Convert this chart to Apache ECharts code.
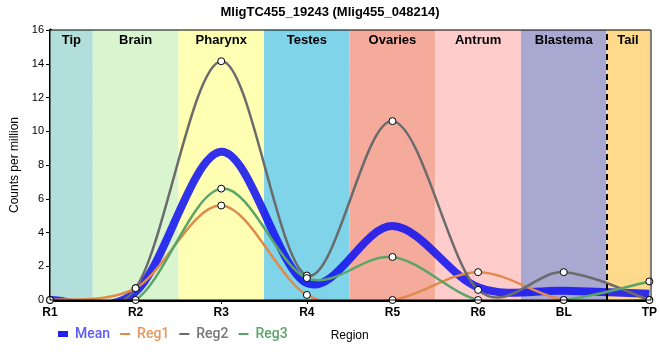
<!DOCTYPE html>
<html><head><meta charset="utf-8">
<script src="https://cdn.jsdelivr.net/npm/echarts@6/dist/echarts.min.js"></script>
<style>html,body{margin:0;padding:0;background:#fff}#c{width:660px;height:360px}</style>
</head><body><div id="c"></div>
<script>
const categories = ['R1','R2','R3','R4','R5','R6','BL','TP'];
const meanVals = [0, 0.47, 8.78, 1.0, 4.38, 0.75, 0.55, 0.37];
const reg1Vals = [0, 0.7, 5.6, 0.3, 0, 1.65, 0, 0];
const reg2Vals = [0, 0.7, 14.15, 1.45, 10.6, 0.6, 1.65, 0];
const reg3Vals = [0, 0, 6.6, 1.3, 2.55, 0, 0, 1.1];
const regions = ['Tip','Brain','Pharynx','Testes','Ovaries','Antrum','Blastema','Tail'];
const regionStart = [0, 0.5, 1.5, 2.5, 3.5, 4.5, 5.5, 6.5];
const regionEnd = [0.5, 1.5, 2.5, 3.5, 4.5, 5.5, 6.5, 7];
const regionColors = ['#b2dfdb','#d8f5d0','#ffffb3','#80d4ea','#f4ab9c','#ffcccc','#a8a8d0','#ffd98c'];

const toXY = arr => arr.map((v,i)=>[i,v]);
const markerStyle = {color:'#fff', borderColor:'#000', borderWidth:1};
const ff = 'Liberation Sans, Arial, sans-serif';
const thinIcon = 'path://M0,0L0,0M0,3L10,3L10,5L0,5ZM10,8L10,8';
const thickIcon = 'path://M0,0L0,0M0,1L10,1L10,7L0,7ZM10,8L10,8';

// uniform Catmull-Rom spline through the pixel points given by the axes
function catmullPath(p) {
  const n = p.length;
  let d = 'M' + p[0][0] + ',' + p[0][1];
  for (let i = 0; i < n - 1; i++) {
    const p0 = p[Math.max(i-1, 0)], p1 = p[i], p2 = p[i+1], p3 = p[Math.min(i+2, n-1)];
    const c1x = p1[0] + (p2[0]-p0[0])/6, c1y = p1[1] + (p2[1]-p0[1])/6;
    const c2x = p2[0] - (p3[0]-p1[0])/6, c2y = p2[1] - (p3[1]-p1[1])/6;
    d += 'C' + c1x + ',' + c1y + ' ' + c2x + ',' + c2y + ' ' + p2[0] + ',' + p2[1];
  }
  return d;
}
function curveSeries(name, vals, color, width, z) {
  return {name, type:'custom', coordinateSystem:'cartesian2d', clip:true, z, silent:true,
    data: toXY(vals), encode:{x:0, y:1},
    renderItem:(params, api) => {
      if (params.dataIndex !== 0) return null;
      const pts = vals.map((v,i)=>api.coord([i, v]));
      return {type:'path', shape:{pathData:catmullPath(pts)},
        style:{fill:'none', stroke:color, lineWidth:width, lineJoin:'round'}};
    }};
}
function markerSeries(name, vals) {
  return {name, type:'line', data:toXY(vals), symbol:'circle', symbolSize:7,
    lineStyle:{width:0, opacity:0}, itemStyle:markerStyle, z:10, silent:true};
}

const chart = echarts.init(document.getElementById('c'));
chart.setOption({
  animation:false,
  title:{text:'MligTC455_19243 (Mlig455_048214)', left:'center', top:1,
    textStyle:{fontFamily:ff, fontWeight:'bold', fontSize:13, color:'#000'}},
  grid:{left:50, right:9, top:30, bottom:60},
  legend:{left:53, top:322, itemGap:10, itemWidth:16, itemHeight:8,
    textStyle:{fontFamily:'Roboto, sans-serif', fontSize:14, fontWeight:500, padding:[0,0,0,-1]},
    data:[
      {name:'Mean', icon:thickIcon, itemStyle:{color:'#2222ee', borderWidth:0}, textStyle:{color:'#5a5aff'}},
      {name:'Reg1', icon:thinIcon, itemStyle:{color:'#e08a4b', borderWidth:0}, textStyle:{color:'#e8975a'}},
      {name:'Reg2', icon:thinIcon, itemStyle:{color:'#6b6b6b', borderWidth:0}, textStyle:{color:'#777'}},
      {name:'Reg3', icon:thinIcon, itemStyle:{color:'#5aa469', borderWidth:0}, textStyle:{color:'#5aa469'}}
    ]},
  xAxis:{type:'value', min:0, max:7, interval:1, name:'Region', nameLocation:'middle', nameGap:30,
    nameTextStyle:{fontFamily:ff, fontSize:12, color:'#000'},
    axisLine:{show:true, lineStyle:{color:'#000', width:3}},
    axisTick:{show:true, length:4, lineStyle:{color:'#000'}},
    axisLabel:{formatter:v=>categories[v]||'', fontFamily:ff, fontWeight:'bold', fontSize:12, color:'#000', margin:7},
    splitLine:{show:true, lineStyle:{color:'#cfcfcf', width:1}}},
  yAxis:{type:'value', min:0, max:16, interval:2, name:'Counts per million', nameLocation:'middle', nameGap:25,
    nameTextStyle:{fontFamily:ff, fontSize:12, color:'#000'},
    axisLine:{show:true, lineStyle:{color:'#000', width:3}},
    axisTick:{show:true, length:4, lineStyle:{color:'#000'}},
    axisLabel:{fontFamily:ff, fontSize:11, color:'#000', margin:6},
    splitLine:{show:true, lineStyle:{color:'#cfcfcf', width:1}}},
  series:[
    {name:'bg', type:'line', data:[], silent:true,
      markArea:{silent:true,
        label:{show:true, position:'insideTop', distance:4, fontFamily:ff, fontWeight:'bold', fontSize:13, color:'#000'},
        data: regions.map((r,i)=>[{name:r, xAxis:regionStart[i], itemStyle:{color:regionColors[i]}},{xAxis:regionEnd[i]}])},
      markLine:{silent:true, symbol:'none', label:{show:false},
        lineStyle:{color:'#000', type:[6,4], width:2}, data:[{xAxis:6.5}]}},
    curveSeries('Mean', meanVals, 'rgba(20,20,240,0.88)', 8, 2),
    curveSeries('Reg1', reg1Vals, '#e08a4b', 2.5, 3),
    curveSeries('Reg2', reg2Vals, '#6b6b6b', 2.5, 3),
    curveSeries('Reg3', reg3Vals, '#5aa469', 2.5, 3),
    markerSeries('Reg1', reg1Vals),
    markerSeries('Reg2', reg2Vals),
    markerSeries('Reg3', reg3Vals)
  ],
  graphic:[{type:'rect', shape:{x:50, y:30, width:601, height:270}, style:{fill:'none', stroke:'#000', lineWidth:1}, silent:true, z:100}]
});
</script></body></html>
